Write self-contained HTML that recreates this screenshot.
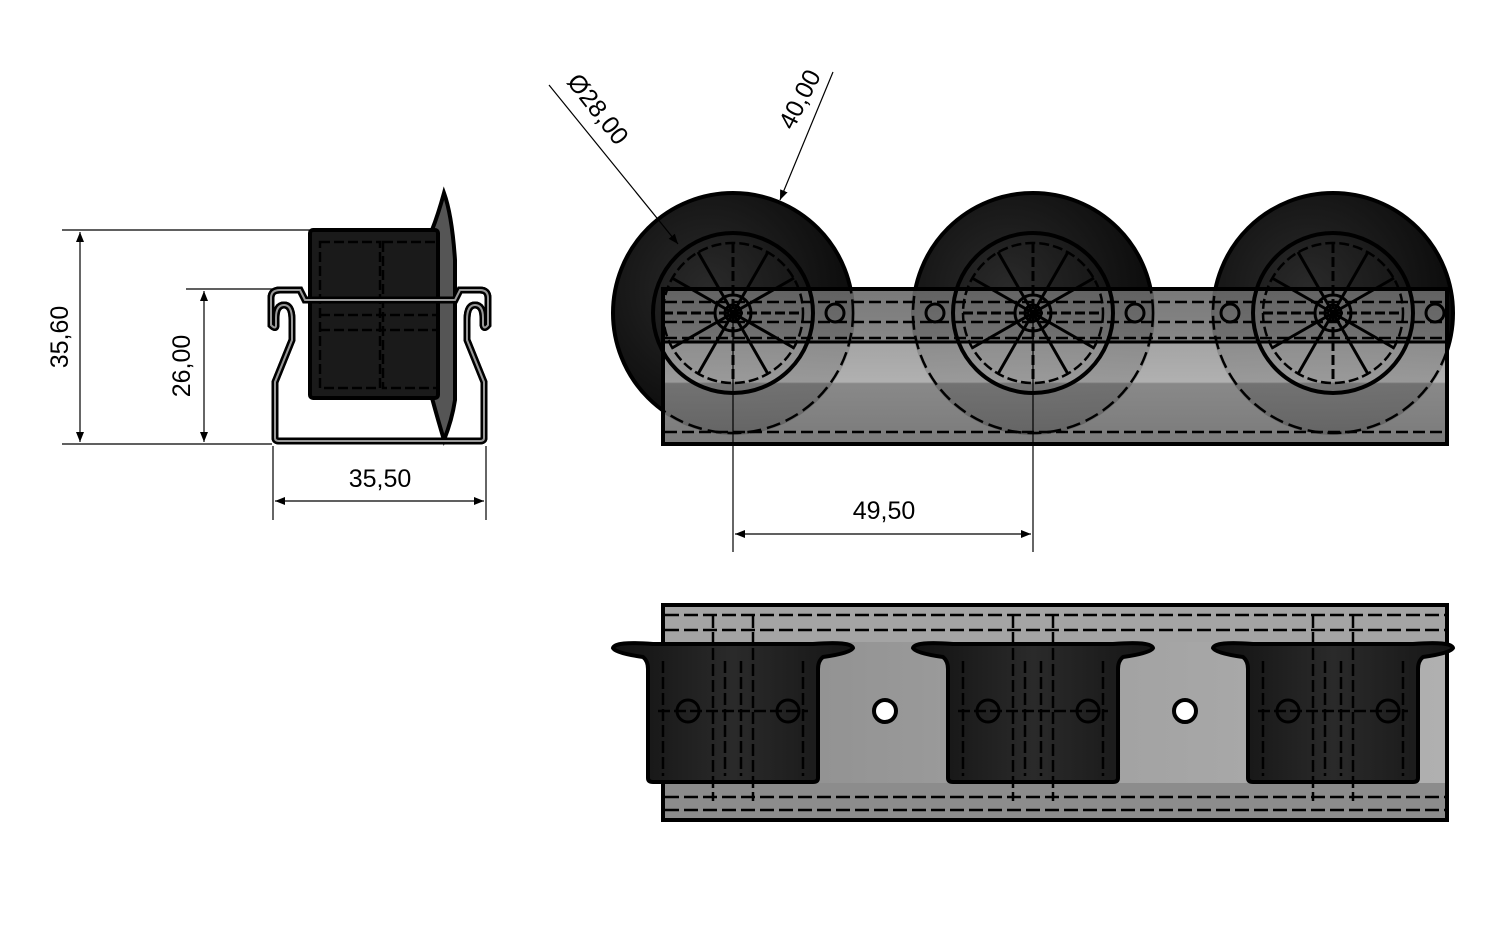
<!DOCTYPE html>
<html><head><meta charset="utf-8"><style>
html,body{margin:0;padding:0;background:#fff;}
svg{display:block;}
text{font-family:"Liberation Sans",sans-serif;font-size:25px;fill:#000;}
</style></head><body>
<svg width="1501" height="936" viewBox="0 0 1501 936" xmlns="http://www.w3.org/2000/svg">
<defs>
<linearGradient id="rail" x1="0" y1="0" x2="0" y2="1">
<stop offset="0" stop-color="#6a6a6a"/><stop offset="0.33" stop-color="#7a7a7a"/>
<stop offset="0.34" stop-color="#9a9a9a"/><stop offset="0.6" stop-color="#a8a8a8"/>
<stop offset="0.61" stop-color="#7c7c7c"/><stop offset="1" stop-color="#6c6c6c"/>
</linearGradient>
<linearGradient id="railb" x1="0" y1="0" x2="1" y2="0">
<stop offset="0" stop-color="#8a8a8a"/><stop offset="0.5" stop-color="#a0a0a0"/><stop offset="1" stop-color="#b0b0b0"/>
</linearGradient>
<radialGradient id="tire" cx="0.4" cy="0.4" r="0.6">
<stop offset="0" stop-color="#2a2a2a"/><stop offset="1" stop-color="#0c0c0c"/>
</radialGradient>
<linearGradient id="cyl" x1="0" y1="0" x2="1" y2="0">
<stop offset="0" stop-color="#111"/><stop offset="0.5" stop-color="#2a2a2a"/><stop offset="1" stop-color="#151515"/>
</linearGradient>
<marker id="ar" markerWidth="10" markerHeight="8" refX="10" refY="4" orient="auto" markerUnits="userSpaceOnUse">
<path d="M0,0 L10,4 L0,8 z" fill="#000"/></marker>
<marker id="al" markerWidth="10" markerHeight="8" refX="0" refY="4" orient="auto" markerUnits="userSpaceOnUse">
<path d="M10,0 L0,4 L10,8 z" fill="#000"/></marker>
<g id="wheel">
<circle r="80" fill="none" stroke="#000" stroke-width="4"/>
<circle r="70" fill="none" stroke="#000" stroke-width="2.5" stroke-dasharray="10 4"/>
<g stroke="#000" stroke-width="3">
<line x1="0" y1="-70" x2="0" y2="70" stroke-dasharray="10 4"/>
<line x1="-70" y1="0" x2="70" y2="0" stroke-dasharray="10 4"/>
<line x1="-35" y1="-61" x2="35" y2="61"/><line x1="35" y1="-61" x2="-35" y2="61"/>
<line x1="-61" y1="-35" x2="61" y2="35"/><line x1="61" y1="-35" x2="-61" y2="35"/>
</g>
<circle r="18" fill="none" stroke="#000" stroke-width="3"/>
<circle r="8" fill="none" stroke="#000" stroke-width="3"/>
<circle cy="0" r="120" fill="none" stroke="#000" stroke-width="2.5" stroke-dasharray="14 6"/>
</g>
<g id="cupL">
<path d="M-120,37 Q-118,30 -80,33 L80,33 Q118,30 120,37 Q118,42 90,46 Q85,50 85,58 L85,167 Q85,171 80,171 L-80,171 Q-85,171 -85,167 L-85,58 Q-85,50 -90,46 Q-118,42 -120,37 z" fill="url(#cyl)" stroke="#000" stroke-width="4"/>
<g stroke="#000" stroke-width="2.5" fill="none" stroke-dasharray="12 4">
<line x1="-70" y1="50" x2="-70" y2="165"/><line x1="70" y1="50" x2="70" y2="165"/>
<line x1="-20" y1="5" x2="-20" y2="190"/><line x1="20" y1="5" x2="20" y2="190"/>
<line x1="-8" y1="50" x2="-8" y2="165"/><line x1="8" y1="50" x2="8" y2="165"/>
<line x1="-75" y1="100" x2="75" y2="100"/>
</g>
<circle cx="-45" cy="100" r="11" fill="none" stroke="#000" stroke-width="3"/>
<circle cx="55" cy="100" r="11" fill="none" stroke="#000" stroke-width="3"/>
</g>
</defs>

<!-- LEFT VIEW dimensions -->
<g stroke="#000" stroke-width="1.2" fill="none">
<line x1="62" y1="230" x2="310" y2="230"/>
<line x1="62" y1="444" x2="272" y2="444"/>
<line x1="80" y1="232" x2="80" y2="442" marker-start="url(#al)" marker-end="url(#ar)"/>
<line x1="186" y1="289" x2="300" y2="289"/>
<line x1="204" y1="291" x2="204" y2="442" marker-start="url(#al)" marker-end="url(#ar)"/>
<line x1="273" y1="446" x2="273" y2="520"/>
<line x1="486" y1="446" x2="486" y2="520"/>
<line x1="275" y1="501" x2="484" y2="501" marker-start="url(#al)" marker-end="url(#ar)"/>
</g>
<text x="68" y="337" text-anchor="middle" transform="rotate(-90 68 337)">35,60</text>
<text x="190" y="366" text-anchor="middle" transform="rotate(-90 190 366)">26,00</text>
<text x="380" y="487" text-anchor="middle">35,50</text>

<!-- LEFT VIEW part -->
<path d="M432,230 Q438,215 444,193 Q452,215 455,260 L455,400 Q452,420 444,440 Q438,420 432,398 z" fill="#555" stroke="#000" stroke-width="4"/>
<rect x="310" y="230" width="128" height="168" rx="3" fill="#1a1a1a" stroke="#000" stroke-width="4"/>
<g stroke="#000" stroke-width="2.5" fill="none" stroke-dasharray="10 4">
<rect x="320" y="242" width="60" height="146"/><rect x="383" y="242" width="55" height="146"/>
<line x1="320" y1="315" x2="440" y2="315"/><line x1="320" y1="300" x2="440" y2="300"/><line x1="320" y1="330" x2="440" y2="330"/>
</g>
<path id="brk" d="M275,438 L275,382 L292,340 L292,320 Q292,305 284,305 Q276,305 276,318 L276,325 Q276,330 271,325 L271,298 Q271,290 280,290 L300,290 L305,300 L455,300 L460,290 L480,290 Q488,290 488,298 L488,325 Q484,330 483,325 L483,318 Q483,305 475,305 Q467,305 467,320 L467,340 L484,382 L484,438 Q484,441 480,441 L279,441 Q275,441 275,438 z" fill="none" stroke="#000" stroke-width="7"/>
<use href="#brk" stroke="#999" stroke-width="2"/>
<path d="M275,438 L275,382 L292,340 L292,320 Q292,305 284,305 Q276,305 276,318 L276,325 Q276,330 271,325 L271,298 Q271,290 280,290 L300,290 L305,300 L455,300 L460,290 L480,290 Q488,290 488,298 L488,325 Q484,330 483,325 L483,318 Q483,305 475,305 Q467,305 467,320 L467,340 L484,382 L484,438 Q484,441 480,441 L279,441 Q275,441 275,438 z" fill="none" stroke="#999" stroke-width="2"/>

<!-- MIDDLE VIEW -->
<circle cx="733" cy="313" r="120" fill="url(#tire)" stroke="#000" stroke-width="4"/>
<circle cx="1033" cy="313" r="120" fill="url(#tire)" stroke="#000" stroke-width="4"/>
<circle cx="1333" cy="313" r="120" fill="url(#tire)" stroke="#000" stroke-width="4"/>
<rect x="663" y="289" width="784" height="155" fill="url(#rail)" fill-opacity="0.9" stroke="#000" stroke-width="4"/>
<g stroke="#000" stroke-width="2.5" stroke-dasharray="12 5">
<line x1="665" y1="302" x2="1445" y2="302"/><line x1="665" y1="322" x2="1445" y2="322"/>
<line x1="665" y1="338" x2="1445" y2="338"/><line x1="665" y1="432" x2="1445" y2="432"/>
</g>
<line x1="665" y1="342" x2="1445" y2="342" stroke="#000" stroke-width="3"/>
<use href="#wheel" x="733" y="313"/>
<use href="#wheel" x="1033" y="313"/>
<use href="#wheel" x="1333" y="313"/>
<g fill="none" stroke="#000" stroke-width="3">
<circle cx="835" cy="313" r="9"/><circle cx="935" cy="313" r="9"/><circle cx="1135" cy="313" r="9"/><circle cx="1230" cy="313" r="9"/><circle cx="1435" cy="313" r="9"/>
</g>

<!-- leaders -->
<line x1="549" y1="85" x2="678" y2="244" stroke="#000" stroke-width="1.2" marker-end="url(#ar)"/>
<text x="566" y="82" transform="rotate(52 566 82)">Ø28,00</text>
<line x1="833" y1="72" x2="780" y2="200" stroke="#000" stroke-width="1.2" marker-end="url(#ar)"/>
<text x="793" y="131" transform="rotate(-63 793 131)">40,00</text>

<!-- 49,50 -->
<g stroke="#000" stroke-width="1.2" fill="none">
<line x1="733" y1="313" x2="733" y2="552"/>
<line x1="1033" y1="313" x2="1033" y2="552"/>
<line x1="735" y1="534" x2="1031" y2="534" marker-start="url(#al)" marker-end="url(#ar)"/>
</g>
<text x="884" y="519" text-anchor="middle">49,50</text>

<!-- BOTTOM VIEW -->
<rect x="663" y="605" width="784" height="215" fill="url(#railb)" stroke="#000" stroke-width="4"/>
<rect x="665" y="607" width="780" height="35" fill="#a4a4a4"/>
<rect x="665" y="783" width="780" height="35" fill="#8c8c8c"/>
<g stroke="#000" stroke-width="2.5" stroke-dasharray="14 5">
<line x1="665" y1="615" x2="1445" y2="615"/><line x1="665" y1="630" x2="1445" y2="630"/>
<line x1="665" y1="797" x2="1445" y2="797"/><line x1="665" y1="810" x2="1445" y2="810"/>
</g>
<circle cx="885" cy="711" r="11" fill="#fff" stroke="#000" stroke-width="4"/>
<circle cx="1185" cy="711" r="11" fill="#fff" stroke="#000" stroke-width="4"/>
<use href="#cupL" x="733" y="611"/>
<use href="#cupL" x="1033" y="611"/>
<use href="#cupL" x="1333" y="611"/>
</svg>
</body></html>
